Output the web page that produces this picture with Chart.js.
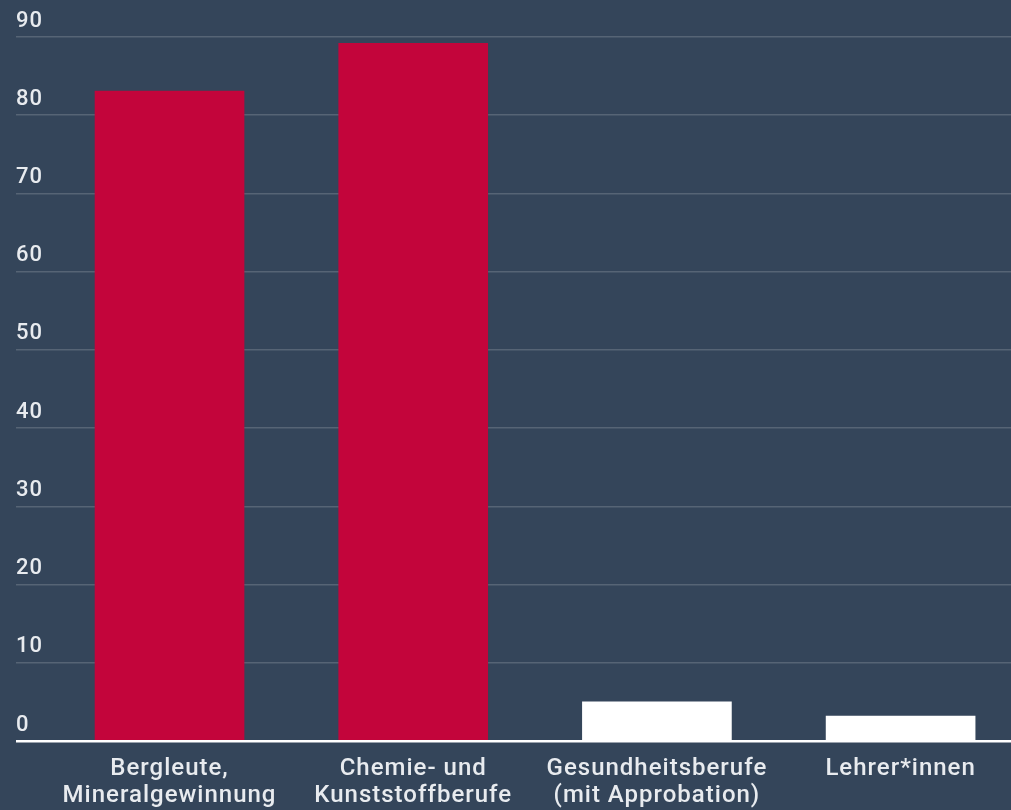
<!DOCTYPE html>
<html lang="de">
<head>
<meta charset="utf-8">
<title>Berufe</title>
<script src="https://cdn.jsdelivr.net/npm/chart.js@4"></script>
<style>
  html, body { margin: 0; padding: 0; background: #34455a; overflow: hidden; }
  #wrap { width: 1011px; height: 810px; }
</style>
</head>
<body>
<div id="wrap"><canvas id="chart"></canvas></div>
<script>
const categories = [
  ['Bergleute,', 'Mineralgewinnung'],
  ['Chemie- und', 'Kunststoffberufe'],
  ['Gesundheitsberufe', '(mit Approbation)'],
  ['Lehrer*innen'],
];
const values = [83.1, 89.2, 5.0, 3.2];
const barColors = ['#c3053b', '#c3053b', '#ffffff', '#ffffff'];
const yTicks = [0, 10, 20, 30, 40, 50, 60, 70, 80, 90];

const TEXT = '#e8ebef';
const GRID = 'rgba(255,255,255,0.17)';
const FONT = 'Roboto, "Noto Sans", sans-serif';

// a little tracking, like the original labels
const spacing = {
  id: 'spacing',
  beforeUpdate: (c) => (c.ctx.letterSpacing = '1px'),
  beforeDraw: (c) => (c.ctx.letterSpacing = '1px'),
};

new Chart(document.getElementById('chart'), {
  type: 'bar',
  data: {
    datasets: [
      {
        data: values.map((v, i) => ({ x: i, y: v })),
        backgroundColor: barColors,
        borderWidth: 0,
        barThickness: 149,
      },
    ],
  },
  options: {
    responsive: true,
    maintainAspectRatio: false,
    animation: false,
    layout: { padding: { left: 16, right: 0, top: 37, bottom: 0 } },
    plugins: { legend: { display: false }, tooltip: { enabled: false } },
    scales: {
      x: {
        type: 'linear',
        offset: false,
        min: -0.63,
        max: 3.453,
        grid: { display: false, offset: false },
        border: { display: false },
        afterBuildTicks: (s) => {
          s.ticks = categories.map((_, i) => ({ value: i }));
        },
        afterFit: (s) => {
          s.height = 69;
        },
        ticks: {
          autoSkip: false,
          maxRotation: 0,
          padding: 6,
          color: TEXT,
          font: { family: FONT, size: 24, weight: '500', lineHeight: 1.13 },
          callback: (v) => categories[v] || '',
        },
      },
      y: {
        min: 0,
        max: 90,
        afterBuildTicks: (s) => {
          s.ticks = yTicks.map((v) => ({ value: v }));
        },
        afterFit: (s) => {
          s.width = 0;
        },
        border: { display: false },
        grid: {
          drawTicks: false,
          color: (c) => (c.tick && c.tick.value === 0 ? '#ffffff' : GRID),
          lineWidth: (c) => (c.tick && c.tick.value === 0 ? 2.5 : 1.5),
        },
        ticks: {
          mirror: true,
          padding: 0,
          labelOffset: -16,
          color: TEXT,
          font: { family: FONT, size: 22, weight: '500' },
        },
      },
    },
  },
  plugins: [spacing],
});
</script>
</body>
</html>
